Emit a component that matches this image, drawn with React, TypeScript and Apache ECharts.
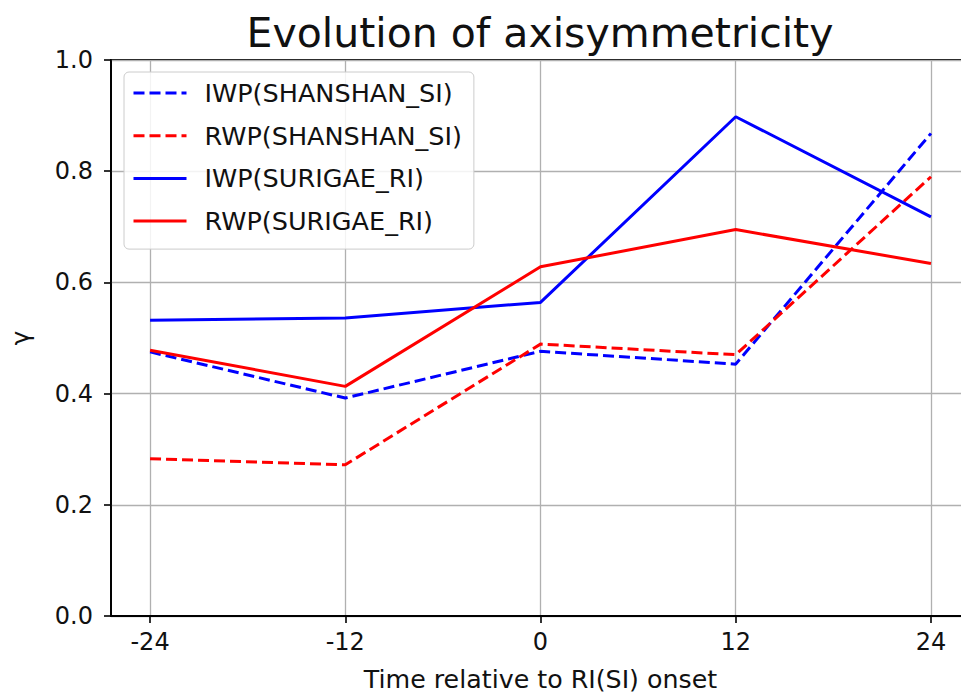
import React, { useEffect, useRef } from "react";
import * as echarts from "echarts";

const hours = [-24, -12, 0, 12, 24];
const iwpShanshan = [0.475, 0.392, 0.476, 0.453, 0.868];
const rwpShanshan = [0.283, 0.272, 0.489, 0.47, 0.79];
const iwpSurigae = [0.532, 0.536, 0.564, 0.898, 0.718];
const rwpSurigae = [0.478, 0.413, 0.628, 0.695, 0.634];
const seriesNames = ["IWP(SHANSHAN_SI)", "RWP(SHANSHAN_SI)", "IWP(SURIGAE_RI)", "RWP(SURIGAE_RI)"];
const yTicks = [0, 0.2, 0.4, 0.6, 0.8, 1.0];

const FONT = "DejaVu Sans";

export default function App() {
  const ref = useRef<HTMLDivElement>(null);
  useEffect(() => {
    if (!ref.current) return;
    const chart = echarts.init(ref.current, null, { renderer: "svg" });
    const mk = (vals: number[]) => hours.map((h, i) => [h, vals[i]]);
    const defs = [
      { name: seriesNames[0], data: iwpShanshan, color: "#0000ff", type: [11, 5] },
      { name: seriesNames[1], data: rwpShanshan, color: "#ff0000", type: [11, 5] },
      { name: seriesNames[2], data: iwpSurigae, color: "#0000ff", type: "solid" },
      { name: seriesNames[3], data: rwpSurigae, color: "#ff0000", type: "solid" },
    ];
    chart.setOption({
      animation: false,
      backgroundColor: "#ffffff",
      textStyle: { fontFamily: FONT },
      title: {
        text: "Evolution of axisymmetricity",
        left: 540,
        top: 12,
        padding: 0,
        textAlign: "center",
        textStyle: { fontFamily: FONT, fontSize: 41, fontWeight: "normal", color: "#111" },
      },
      legend: {
        orient: "vertical",
        left: 124,
        top: 72,
        padding: [8, 12, 15, 8],
        itemWidth: 53,
        itemHeight: 24,
        itemGap: 16.7,
        backgroundColor: "rgba(255,255,255,0.85)",
        borderColor: "#cccccc",
        borderWidth: 1,
        borderRadius: 5,
        itemStyle: { opacity: 0 },
        lineStyle: { width: 3 },
        data: seriesNames,
        textStyle: {
          fontFamily: FONT,
          fontSize: 25.5,
          color: "#111",
          lineHeight: 24,
          padding: [0, 0, 0, 13],
        },
      },
      grid: {
        left: 110,
        top: 60,
        right: 0,
        bottom: 80,
        show: true,
        borderColor: "#000",
        borderWidth: 1.8,
        backgroundColor: "transparent",
      },
      xAxis: {
        type: "value",
        min: -26.4,
        max: 26.4,
        minInterval: 12,
        maxInterval: 12,
        name: "Time relative to RI(SI) onset",
        nameLocation: "middle",
        nameGap: 51,
        nameTextStyle: { fontFamily: FONT, fontSize: 25.3, color: "#111" },
        axisLine: { show: true, onZero: false, lineStyle: { color: "#000", width: 1.8 } },
        axisTick: { show: true, length: 7, lineStyle: { color: "#000", width: 1.6 }, customValues: hours },
        axisLabel: {
          fontFamily: FONT,
          fontSize: 24,
          color: "#111",
          margin: 14,
          customValues: hours,
          formatter: (v: number) => (hours.includes(Math.round(v * 10) / 10) ? String(v) : ""),
        },
        splitLine: { show: true, lineStyle: { color: "#b0b0b0", width: 1.3 } },
      },
      yAxis: {
        type: "value",
        min: 0,
        max: 1,
        interval: 0.2,
        name: "γ",
        nameLocation: "middle",
        nameRotate: 90,
        nameGap: 78,
        nameTextStyle: { fontFamily: FONT, fontSize: 25, color: "#111" },
        axisLine: { show: true, onZero: false, lineStyle: { color: "#000", width: 1.8 } },
        axisTick: { show: true, length: 7, lineStyle: { color: "#000", width: 1.6 } },
        axisLabel: {
          fontFamily: FONT,
          fontSize: 24,
          color: "#111",
          margin: 18,
          customValues: yTicks,
          formatter: (v: number) => v.toFixed(1),
        },
        splitLine: { show: true, lineStyle: { color: "#b0b0b0", width: 1.3 } },
      },
      series: defs.map((d) => ({
        name: d.name,
        type: "line",
        data: mk(d.data),
        symbol: "none",
        showSymbol: false,
        color: d.color,
        lineStyle: { color: d.color, width: 3, type: d.type },
        itemStyle: { color: d.color },
      })),
    });
    return () => chart.dispose();
  }, []);
  return (
    <div
      style={{
        position: "fixed",
        left: 0,
        top: 0,
        width: 961,
        height: 697,
        overflow: "hidden",
        background: "#fff",
      }}
    >
      <div ref={ref} style={{ width: 970, height: 697 }} />
    </div>
  );
}
